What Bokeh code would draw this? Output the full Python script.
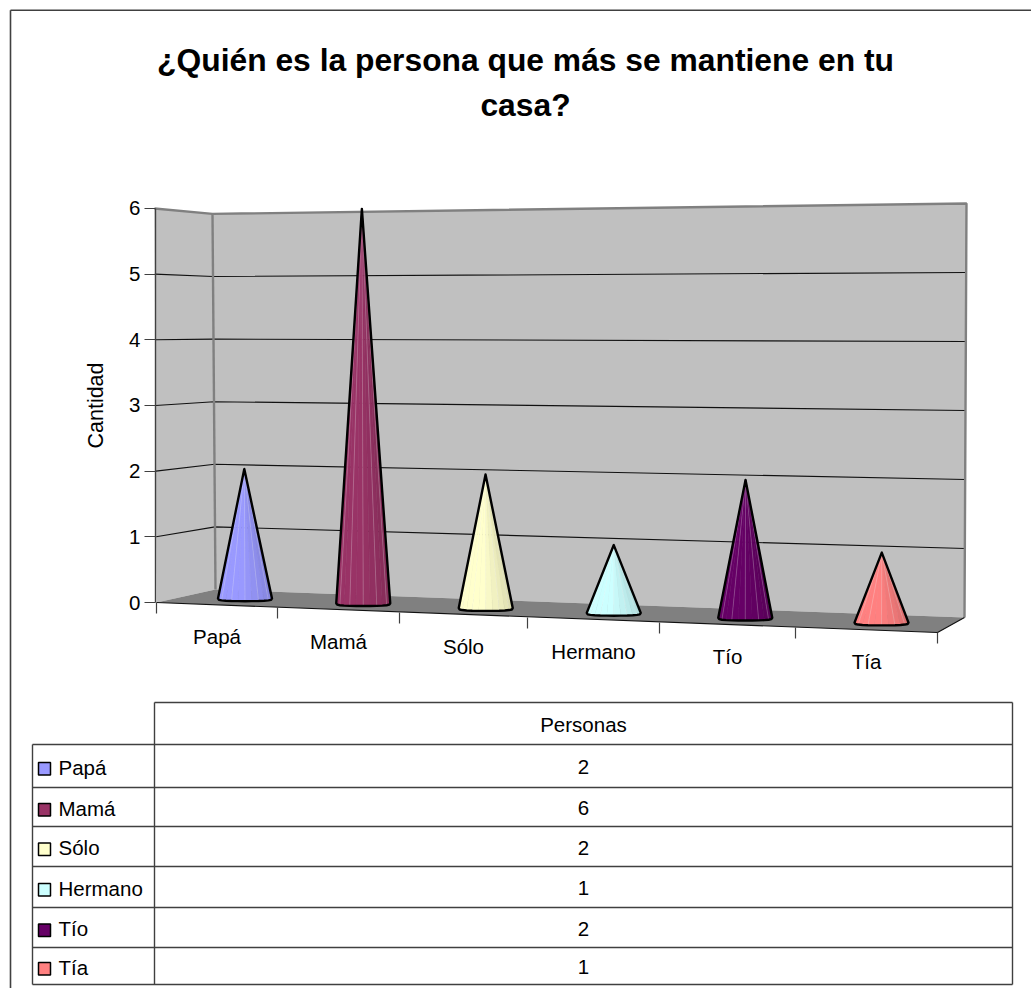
import numpy as np
from bokeh.embed import file_html
from bokeh.resources import INLINE
from bokeh.plotting import figure
from bokeh.models import Range1d, LinearAxis, FixedTicker
from bokeh.core.properties import value

# ---- data ----
title_lines = ["¿Quién es la persona que más se mantiene en tu", "casa?"]
categories = ["Papá", "Mamá", "Sólo", "Hermano", "Tío", "Tía"]
personas = [2, 6, 2, 1, 2, 1]
series_name = "Personas"
y_ticks = [0, 1, 2, 3, 4, 5, 6]
y_title = "Cantidad"
colors = ["#9999FF", "#993366", "#FFFFCC", "#CCFFFF", "#660066", "#FF8080"]

# ---- layout of the page and of the 3D box ----
W, H = 1031, 988
FONT = value("Liberation Sans")
FRONT_X = [156, 277, 399, 527, 659, 795, 937]
BACK_X = [215, 330, 445, 570, 697, 828, 964]
U = np.arange(7)

def lerp(a, b, t):
    return a + (b - a) * t

def project(u, d, v):
    """slot position u (0..6), depth d (0 front .. 1 back), value v -> page px"""
    x0 = lerp(np.interp(u, U, FRONT_X), np.interp(u, U, BACK_X), d)
    y0 = lerp(lerp(602, 632, u / 6), lerp(589, 617, u / 6), d)
    unit = lerp(lerp(65.67, 72.0, u / 6), lerp(62.6, 69.0, u / 6), d)
    lean = (lerp(-2, -3, d) * (1 - u / 6) + 2 * (u / 6)) / 6
    return x0 + lean * v, y0 - unit * v

def shade(hex_color, f):
    r, g, b = [int(hex_color[i:i + 2], 16) for i in (1, 3, 5)]
    return "#%02x%02x%02x" % (round(r * f), round(g * f), round(b * f))

p = figure(width=W, height=H, x_range=Range1d(0, W), y_range=Range1d(H, 0),
           output_backend="svg", toolbar_location=None, min_border=0)
p.xaxis.visible = False
p.yaxis.visible = False
p.xgrid.visible = False
p.ygrid.visible = False
p.outline_line_color = None
p.background_fill_color = "white"
p.border_fill_color = "white"

# outer frame
p.line([10, 10], [988, 9.7], line_color="#404040", line_width=1.6)
p.line([10, 1031], [9.7, 9.7], line_color="#404040", line_width=1.6)

# title
for line, yy in zip(title_lines, [59, 104]):
    p.text([525], [yy], text=[line], text_font=FONT, text_font_style="bold",
           text_font_size="31.8px", text_align="center", text_baseline="middle",
           text_color="black")

# walls and floor
vmax = y_ticks[-1]
c = [project(0, 0, 0), project(0, 1, 0), project(6, 1, 0), project(6, 0, 0)]
t = [project(0, 0, vmax), project(0, 1, vmax), project(6, 1, vmax)]
WALL = "#C0C0C0"
p.patch([c[0][0], t[0][0], t[1][0], c[1][0]], [c[0][1], t[0][1], t[1][1], c[1][1]],
        fill_color=WALL, line_color=None)
p.patch([c[1][0], t[1][0], t[2][0], c[2][0]], [c[1][1], t[1][1], t[2][1], c[2][1]],
        fill_color=WALL, line_color=None)
p.patch([q[0] for q in c], [q[1] for q in c], fill_color="#808080", line_color=None)

# horizontal grid lines on both walls
gx, gy = [], []
for k in y_ticks[1:-1]:
    pts = [project(0, 0, k), project(0, 1, k), project(6, 1, k)]
    gx.append([q[0] for q in pts])
    gy.append([q[1] for q in pts])
p.multi_line(gx, gy, line_color="#111111", line_width=1.1)

# wall edges
p.line([t[0][0], t[1][0], t[2][0], c[2][0]], [t[0][1], t[1][1], t[2][1], c[2][1]],
       line_color="#808080", line_width=2.4)
p.line([t[1][0], c[1][0]], [t[1][1], c[1][1]], line_color="#808080", line_width=2.4)

# floor edges
p.line([c[0][0], c[3][0], c[2][0]], [c[0][1], c[3][1], c[2][1]], line_color="#111111", line_width=1.2)

# category ticks
for u in U:
    x0, y0 = project(u, 0, 0)
    p.line([x0, x0], [y0, y0 + 11], line_color="#404040", line_width=1.2)

# value axis, on its own range in value units
p.extra_y_ranges["val"] = Range1d((602 - H) / 65.67, 602 / 65.67)
axis = LinearAxis(y_range_name="val", fixed_location=155,
                  ticker=FixedTicker(ticks=y_ticks), bounds=(y_ticks[0], y_ticks[-1]),
                  axis_label=y_title, axis_label_text_font="Liberation Sans",
                  axis_label_text_font_size="21.5px", axis_label_text_font_style="normal",
                  axis_label_text_color="black", axis_label_standoff=18,
                  major_label_text_font="Liberation Sans", major_label_text_font_size="20.5px",
                  major_label_text_color="black", major_label_standoff=4,
                  major_tick_out=11, major_tick_in=0, minor_tick_out=0, minor_tick_in=0,
                  major_tick_line_color="#404040", axis_line_color="#404040",
                  major_tick_line_width=1, axis_line_width=1.4)
p.add_layout(axis, "left")

# cones
R = 27
N = 12
for i, (val, col) in enumerate(zip(personas, colors)):
    u = i + 0.5
    cx, cy = project(u, 0.5, 0)
    ax, ay = project(u, 0.5, val)
    th = np.linspace(np.pi, 0, N + 1)
    bx = cx + R * np.cos(th)
    by = cy + 2.8 * np.sin(th) ** 0.5
    xs, ys, fills = [], [], []
    for j in range(N):
        xs.append([ax, bx[j], bx[j + 1]])
        ys.append([ay, by[j], by[j + 1]])
        f = 1.0 if j < N / 2 else 1.0 - 0.16 * (j - N / 2 + 1) / (N / 2)
        fills.append(shade(col, f))
    p.patches(xs, ys, fill_color=fills, line_color=fills, line_width=0.5)
    p.multi_line([[ax, bx[j]] for j in range(2, N - 1, 2)],
                 [[ay, by[j]] for j in range(2, N - 1, 2)],
                 line_color="white", line_alpha=0.22, line_width=1)
    p.patch([ax, *bx], [ay, *by], fill_color=None, line_color="black",
            line_width=2.4, line_join="round")
    lx, ly = project(u, 0, 0)
    p.text([lx], [ly + 31], text=[categories[i]], text_font=FONT, text_font_size="20.5px",
           text_align="center", text_baseline="middle", text_color="black")

# data table
TL, TM, TR = 32, 154, 1012
ROWS = [702, 744, 787, 826, 866, 907, 947, 984]
TC = "#404040"
p.multi_line([[TM, TR]] + [[TL, TR]] * 7, [[yy, yy] for yy in ROWS],
             line_color=TC, line_width=1.4)
p.multi_line([[TM, TM], [TR, TR], [TL, TL]], [[702, 984], [702, 984], [744, 984]],
             line_color=TC, line_width=1.4)
p.text([(TM + TR) / 2], [(ROWS[0] + ROWS[1]) / 2 + 1], text=[series_name], text_font=FONT,
       text_font_size="20.5px", text_align="center", text_baseline="middle", text_color="black")
for i, (cat, val, col) in enumerate(zip(categories, personas, colors)):
    ym = (ROWS[i + 1] + ROWS[i + 2]) / 2 + 1
    p.quad(left=[38], right=[50], top=[ym - 4.5], bottom=[ym + 8], fill_color=col,
           line_color="black", line_width=1.5)
    p.text([58], [ym], text=[cat], text_font=FONT, text_font_size="20.5px",
           text_align="left", text_baseline="middle", text_color="black")
    p.text([(TM + TR) / 2], [ym], text=[str(val)], text_font=FONT, text_font_size="20.5px",
           text_align="center", text_baseline="middle", text_color="black")

open("out.html", "w").write(file_html(p, INLINE))
